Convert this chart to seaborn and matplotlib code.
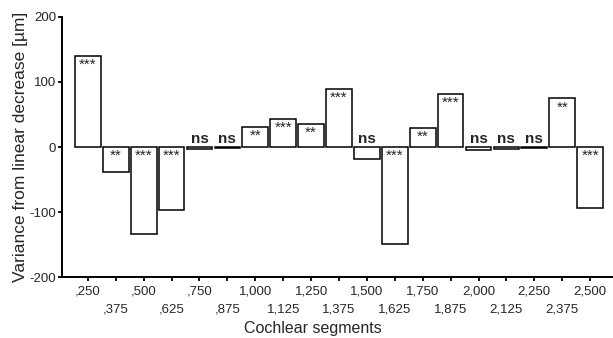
import pandas as pd
import matplotlib
matplotlib.use("Agg")
import matplotlib.pyplot as plt
import seaborn as sns

# Values
segments = [",250", ",375", ",500", ",625", ",750", ",875", "1,000", "1,125", "1,250",
            "1,375", "1,500", "1,625", "1,750", "1,875", "2,000", "2,125", "2,250",
            "2,375", "2,500"]
variance = [140, -38, -133, -97, -3, -1, 31, 43, 36, 89, -18, -149, 30, 82, -4, -3, -2, 75, -93]
significance = ["***", "**", "***", "***", "ns", "ns", "**", "***", "**", "***", "ns", "***",
                "**", "***", "ns", "ns", "ns", "**", "***"]
y_ticks = [-200, -100, 0, 100, 200]

sns.set_theme(style="ticks")
plt.rcParams["font.family"] = ["Liberation Sans", "DejaVu Sans"]

df = pd.DataFrame({"segment": segments, "variance": variance, "sig": significance})

fig = plt.figure(figsize=(6.13, 3.38), dpi=100)
ax = fig.add_axes([0.101, 0.180, 0.899, 0.770])

sns.barplot(data=df, x="segment", y="variance", order=segments, color="white",
            edgecolor="black", linewidth=1.1, width=0.92, saturation=1, ax=ax)

# significance marks
for i, (v, s) in enumerate(zip(variance, significance)):
    if s == "ns":
        ax.annotate(s, (i, max(v, 0)), xytext=(0, 1), textcoords="offset points",
                    ha="center", va="bottom", fontsize=11, fontweight="bold")
    else:
        ax.annotate(s, (i, max(v, 0)), xytext=(0, -1.5), textcoords="offset points",
                    ha="center", va="top", fontsize=11)

ax.set_ylim(-200, 200)
ax.set_xlim(-0.93, 18.82)
ax.set_yticks(y_ticks)
ax.set_yticklabels([str(t) for t in y_ticks], fontsize=9.5)

even = list(range(0, len(segments), 2))
odd = list(range(1, len(segments), 2))
ax.set_xticks(even, [segments[i] for i in even], fontsize=9.5)
ax.set_xticks(odd, [segments[i] for i in odd], minor=True, fontsize=9.5)
ax.tick_params(axis="x", which="major", length=3, width=1.3, pad=3, color="black")
ax.tick_params(axis="x", which="minor", length=3, width=1.3, pad=16, color="black")
ax.tick_params(axis="y", length=3, width=1.3, pad=1, color="black")

sns.despine(ax=ax)
for side in ["left", "bottom"]:
    ax.spines[side].set_linewidth(1.4)
    ax.spines[side].set_color("black")

ax.set_xlabel("Cochlear segments", fontsize=11.5)
ax.xaxis.set_label_coords((313 - 62) / (613 - 62), -0.17)
ax.set_ylabel("Variance from linear decrease [µm]", fontsize=12.5, labelpad=1)

fig.savefig("out.png", dpi=100)
